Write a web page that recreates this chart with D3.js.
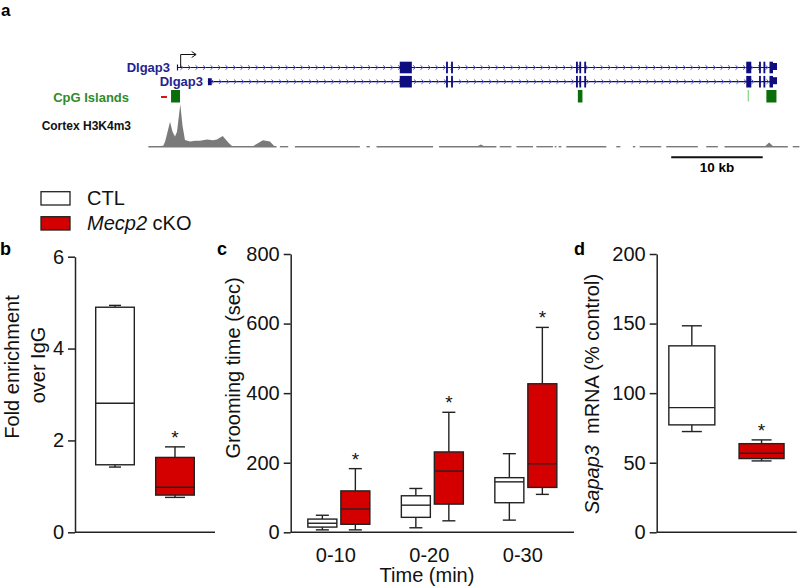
<!DOCTYPE html>
<html><head><meta charset="utf-8">
<script src="https://cdn.jsdelivr.net/npm/d3@7"></script>
<style>body{margin:0;background:#fff}svg{display:block}text{font-family:"Liberation Sans",Arial,Helvetica,sans-serif}</style>
</head><body><svg id="chart" width="800" height="588"></svg>
<script>
// ---------- DATA ----------
// Panel a: genome track (positions in kb)
const geneLength = 65.56;
const track1Start = 0, track2Start = 3.38;
const exonStart = [24.34, 29.4, 29.95, 43.6, 43.96, 44.5, 62.2, 63.6, 64.08, 64.74];
const exonEnd   = [25.66, 29.6, 30.15, 43.8, 44.16, 44.7, 62.75, 63.8, 64.28, 65.12];
const utrStart = [65.12], utrEnd = [65.56];
const cpgStart = [-0.65, 43.8, 64.4];
const cpgEnd   = [0.33, 44.3, 65.5];
const cpgLightStart = [62.35], cpgLightEnd = [62.5];
const primerStart = [-1.75], primerEnd = [-1.1];
const sigKb  = [-3.13, -1.5, -1.3, -1.09, -0.76, -0.49, -0.22, 0.0, 0.36, 0.6, 0.87, 1.42, 2.0, 2.51, 3.28, 3.93, 4.37, 4.99, 5.68, 6.11, 8.19, 8.84, 9.39, 10.15, 10.7, 32.7, 33.2, 33.7, 64.2, 64.7, 65.2];
const sigVal = [0, 2, 12, 30, 59, 35, 24, 35, 100, 50, 16, 12, 14, 14, 17, 15, 17, 25, 8, 0, 0, 8, 15, 12, 0, 0, 5, 0, 0, 10, 0];
const baseStart = [-3.13, 11.24, 12.88, 20.71, 21.80, 28.64, 35.26, 37.09, 39.27, 41.27, 41.70, 42.54, 48.0, 49.81, 50.55, 53.46, 57.83, 59.83, 67.28];
const baseEnd   = [10.88, 12.15, 19.98, 21.07, 27.98, 34.90, 36.54, 38.90, 41.08, 41.45, 42.0, 46.91, 48.44, 50.08, 52.91, 56.91, 59.10, 66.74, 68.01];
const scaleBarKb = [54.0, 64.0];

// Panel b: fold enrichment (whiskerLow, q1, median, q3, whiskerHigh)
const bGroups = ["CTL", "Mecp2 cKO"];
const bCTL = [1.42, 1.47, 2.81, 4.90, 4.94];
const bKO  = [0.76, 0.81, 0.98, 1.63, 1.86];
const bTicks = [0, 2, 4, 6];

// Panel c: grooming time
const cTimes = ["0-10", "0-20", "0-30"];
const cCTL = [[7, 15, 26, 38, 49], [13, 43, 78, 105, 126], [35, 85, 145, 157, 226]];
const cKO  = [[7, 23, 67, 119, 183], [33, 81, 176, 231, 345], [109, 129, 197, 427, 589]];
const cTicks = [0, 200, 400, 600, 800];

// Panel d: Sapap3 mRNA
const dCTL = [72.4, 77.2, 89.6, 134, 148.4];
const dKO  = [51.3, 53, 56.8, 63.7, 66.4];
const dTicks = [0, 50, 100, 150, 200];

// ---------- DRAW ----------
const svg = d3.select("#chart");
svg.append("rect").attr("width", 800).attr("height", 588).attr("fill", "#fff");
const RED = "#d40000", INK = "#222";

// panel labels
[["a", 1, 16, 17], ["b", 0, 255, 18], ["c", 217, 255, 18], ["d", 574, 255, 18]].forEach(([t, x, y, fs]) =>
  svg.append("text").attr("x", x).attr("y", y).attr("font-size", fs).attr("font-weight", "bold").text(t));

// ===== Panel a =====
const gx = d3.scaleLinear().domain([0, geneLength]).range([177, 777]);
const tracks = [{y: 67.5, start: track1Start, label: "Dlgap3", lx: 170}, {y: 81.7, start: track2Start, label: "Dlgap3", lx: 203}];
const NAVY = "#0d0d80";
tracks.forEach((t, ti) => {
  svg.append("text").attr("x", t.lx).attr("y", t.y).attr("dy", "0.36em").attr("text-anchor", "end")
    .attr("font-size", 13).attr("font-weight", "bold").attr("fill", "#23238f").text(t.label);
  svg.append("line").attr("x1", gx(t.start)).attr("x2", gx(geneLength)).attr("y1", t.y).attr("y2", t.y)
    .attr("stroke", NAVY).attr("stroke-width", 1.2);
  // chevrons
  let p = "";
  for (let x = gx(t.start) + 5; x < gx(geneLength) - 3; x += 7.5) {
    p += `M${x - 1.5},${t.y - 2.2}L${x + 1},${t.y}L${x - 1.5},${t.y + 2.2}`;
  }
  svg.append("path").attr("d", p).attr("fill", "none").attr("stroke", "#5a5ac8").attr("stroke-width", 1);
  if (ti === 0) {
    svg.append("line").attr("x1", gx(t.start) + 0.5).attr("x2", gx(t.start) + 0.5).attr("y1", t.y - 3).attr("y2", t.y + 3)
      .attr("stroke", NAVY).attr("stroke-width", 1.2);
  } else {
    svg.append("rect").attr("x", gx(t.start)).attr("width", gx(track2Start + 0.41) - gx(track2Start))
      .attr("y", t.y - 3.5).attr("height", 7).attr("fill", NAVY);
  }
  exonStart.forEach((s, i) => {
    svg.append("rect").attr("x", gx(s)).attr("width", Math.max(1.6, gx(exonEnd[i]) - gx(s)))
      .attr("y", t.y - 5.8).attr("height", 11.6).attr("fill", NAVY);
  });
  utrStart.forEach((s, i) => {
    svg.append("rect").attr("x", gx(s)).attr("width", gx(utrEnd[i]) - gx(s))
      .attr("y", t.y - 4.5).attr("height", 7).attr("fill", NAVY);
  });
});
// TSS arrow
const ax = gx(0.4);
svg.append("path").attr("d", `M${ax},68 V54.5 H${ax + 15}`).attr("fill", "none").attr("stroke", "#111").attr("stroke-width", 1);
svg.append("path").attr("d", `M${ax + 11},51.5 L${ax + 15.5},54.5 L${ax + 11},57.5`).attr("fill", "none").attr("stroke", "#111").attr("stroke-width", 1);

// CpG
svg.append("text").attr("x", 129).attr("y", 97.7).attr("dy", "0.36em").attr("text-anchor", "end")
  .attr("font-size", 13).attr("font-weight", "bold").attr("fill", "#2e8b2e").text("CpG Islands");
cpgStart.forEach((s, i) => svg.append("rect").attr("x", gx(s)).attr("width", Math.max(3, gx(cpgEnd[i]) - gx(s)))
  .attr("y", 90).attr("height", 12.5).attr("fill", "#0a6e0a"));
cpgLightStart.forEach((s, i) => svg.append("rect").attr("x", gx(s)).attr("width", Math.max(1.2, gx(cpgLightEnd[i]) - gx(s)))
  .attr("y", 90).attr("height", 11.5).attr("fill", "#8fdc8f"));
primerStart.forEach((s, i) => svg.append("line").attr("x1", gx(s)).attr("x2", gx(primerEnd[i])).attr("y1", 97).attr("y2", 97)
  .attr("stroke", "#e01010").attr("stroke-width", 2));

// H3K4m3 signal
svg.append("text").attr("x", 131).attr("y", 126).attr("dy", "0.36em").attr("text-anchor", "end")
  .attr("font-size", 12).attr("font-weight", "bold").attr("fill", "#111").text("Cortex H3K4m3");
const sy = d3.scaleLinear().domain([0, 100]).range([146.7, 104.3]);
const sigData = sigKb.map((k, i) => [k, sigVal[i]]);
svg.append("path").datum(sigData)
  .attr("d", d3.area().x(d => gx(d[0])).y0(sy(0)).y1(d => sy(d[1])))
  .attr("fill", "#7a7a7a");
baseStart.forEach((s, i) => svg.append("line").attr("x1", gx(s)).attr("x2", gx(baseEnd[i]))
  .attr("y1", sy(0)).attr("y2", sy(0)).attr("stroke", "#7a7a7a").attr("stroke-width", 1.4));
// scale bar
svg.append("line").attr("x1", gx(scaleBarKb[0])).attr("x2", gx(scaleBarKb[1])).attr("y1", 157.3).attr("y2", 157.3)
  .attr("stroke", "#111").attr("stroke-width", 2);
svg.append("text").attr("x", (gx(scaleBarKb[0]) + gx(scaleBarKb[1])) / 2).attr("y", 171.5).attr("text-anchor", "middle")
  .attr("font-size", 13.5).attr("font-weight", "bold").text("10 kb");

// ===== Legend =====
[[bGroups[0], "#fff", 191.7, 205], [bGroups[1], RED, 216.7, 230]].forEach(([lab, fill, ry, ty], i) => {
  svg.append("rect").attr("x", 41).attr("y", ry).attr("width", 29).attr("height", 13.3)
    .attr("fill", fill).attr("stroke", INK).attr("stroke-width", 1.3);
  const t = svg.append("text").attr("x", 87).attr("y", ty).attr("font-size", 20).attr("fill", "#111");
  if (i === 0) t.text(lab);
  else { t.append("tspan").attr("font-style", "italic").text("Mecp2"); t.append("tspan").text(" cKO"); }
});

// ===== helpers =====
function yAxis(y, x, ticks) {
  const g = svg.append("g").attr("transform", `translate(${x},0)`)
    .call(d3.axisLeft(y).tickValues(ticks).tickSize(7).tickSizeOuter(0).tickPadding(4).tickFormat(d3.format("d")));
  g.select(".domain").attr("stroke", INK).attr("stroke-width", 1.5);
  g.selectAll(".tick line").attr("stroke", INK).attr("stroke-width", 1.5);
  g.selectAll(".tick text").attr("font-size", 20).attr("fill", "#111")
    .style("font-family", '"Liberation Sans",Arial,sans-serif');
  return g;
}
function xLine(y0, x0, x1) {
  svg.append("line").attr("x1", x0).attr("x2", x1).attr("y1", y0).attr("y2", y0).attr("stroke", INK).attr("stroke-width", 1.5);
}
function box(y, cx, w, s, fill, star, cap) {
  const g = svg.append("g");
  const cw = cap || w * 0.45;
  g.append("line").attr("x1", cx).attr("x2", cx).attr("y1", y(s[4])).attr("y2", y(s[3])).attr("stroke", INK).attr("stroke-width", 1.4);
  g.append("line").attr("x1", cx).attr("x2", cx).attr("y1", y(s[1])).attr("y2", y(s[0])).attr("stroke", INK).attr("stroke-width", 1.4);
  g.append("line").attr("x1", cx - cw / 2).attr("x2", cx + cw / 2).attr("y1", y(s[4])).attr("y2", y(s[4])).attr("stroke", INK).attr("stroke-width", 1.4);
  g.append("line").attr("x1", cx - cw / 2).attr("x2", cx + cw / 2).attr("y1", y(s[0])).attr("y2", y(s[0])).attr("stroke", INK).attr("stroke-width", 1.4);
  g.append("rect").attr("x", cx - w / 2).attr("width", w).attr("y", y(s[3])).attr("height", y(s[1]) - y(s[3]))
    .attr("fill", fill).attr("stroke", INK).attr("stroke-width", 1.4);
  g.append("line").attr("x1", cx - w / 2).attr("x2", cx + w / 2).attr("y1", y(s[2])).attr("y2", y(s[2])).attr("stroke", INK).attr("stroke-width", 1.4);
  if (star) g.append("text").attr("x", cx).attr("y", y(s[4]) - 3).attr("text-anchor", "middle").attr("font-size", 19).attr("fill", "#111").text("*");
}
function yTitle(x, y, parts) {
  const t = svg.append("text").attr("transform", `translate(${x},${y}) rotate(-90)`).attr("text-anchor", "middle")
    .attr("dy", "0.35em").attr("font-size", 20).attr("fill", "#111").attr("xml:space", "preserve");
  parts.forEach(([txt, it]) => t.append("tspan").attr("font-style", it ? "italic" : "normal").text(txt));
}

// ===== Panel b =====
const yb = d3.scaleLinear().domain([0, 6]).range([532.3, 256.7]);
const xb = d3.scalePoint().domain(bGroups).range([75, 215]).padding(0.667);
yAxis(yb, 75, bTicks);
xLine(532.3, 75, 215);
box(yb, xb(bGroups[0]), 38.6, bCTL, "#fff", false, 12);
box(yb, xb(bGroups[1]), 38.6, bKO, RED, true, 20);
yTitle(12, 367, [["Fold enrichment", false]]);
yTitle(38, 365, [["over IgG", false]]);

// ===== Panel c =====
const yc = d3.scaleLinear().domain([0, 800]).range([532.3, 254]);
const xc = d3.scalePoint().domain(cTimes).range([290.7, 574]).padding(0.515);
yAxis(yc, 290.7, cTicks);
xLine(532.3, 290.7, 574);
cTimes.forEach((t, i) => {
  box(yc, xc(t) - 16.5, 29, cCTL[i], "#fff", false);
  box(yc, xc(t) + 16.5, 29, cKO[i], RED, true);
  svg.append("text").attr("x", xc(t) - 3).attr("y", 562).attr("text-anchor", "middle").attr("font-size", 20).attr("fill", "#111").text(t);
});
svg.append("text").attr("x", 427).attr("y", 582).attr("text-anchor", "middle").attr("font-size", 20).attr("fill", "#111").text("Time (min)");
yTitle(233, 368, [["Grooming time (sec)", false]]);

// ===== Panel d =====
const yd = d3.scaleLinear().domain([0, 200]).range([532.3, 254]);
const xd = d3.scalePoint().domain(bGroups).range([656.7, 796.7]).padding(0.504);
yAxis(yd, 656.7, dTicks);
xLine(532.3, 656.7, 796.7);
box(yd, xd(bGroups[0]), 46, dCTL, "#fff", false, 20);
box(yd, xd(bGroups[1]), 45, dKO, RED, true, 20);
yTitle(592, 394, [["Sapap3", true], ["  mRNA (% control)", false]]);
</script></body></html>
